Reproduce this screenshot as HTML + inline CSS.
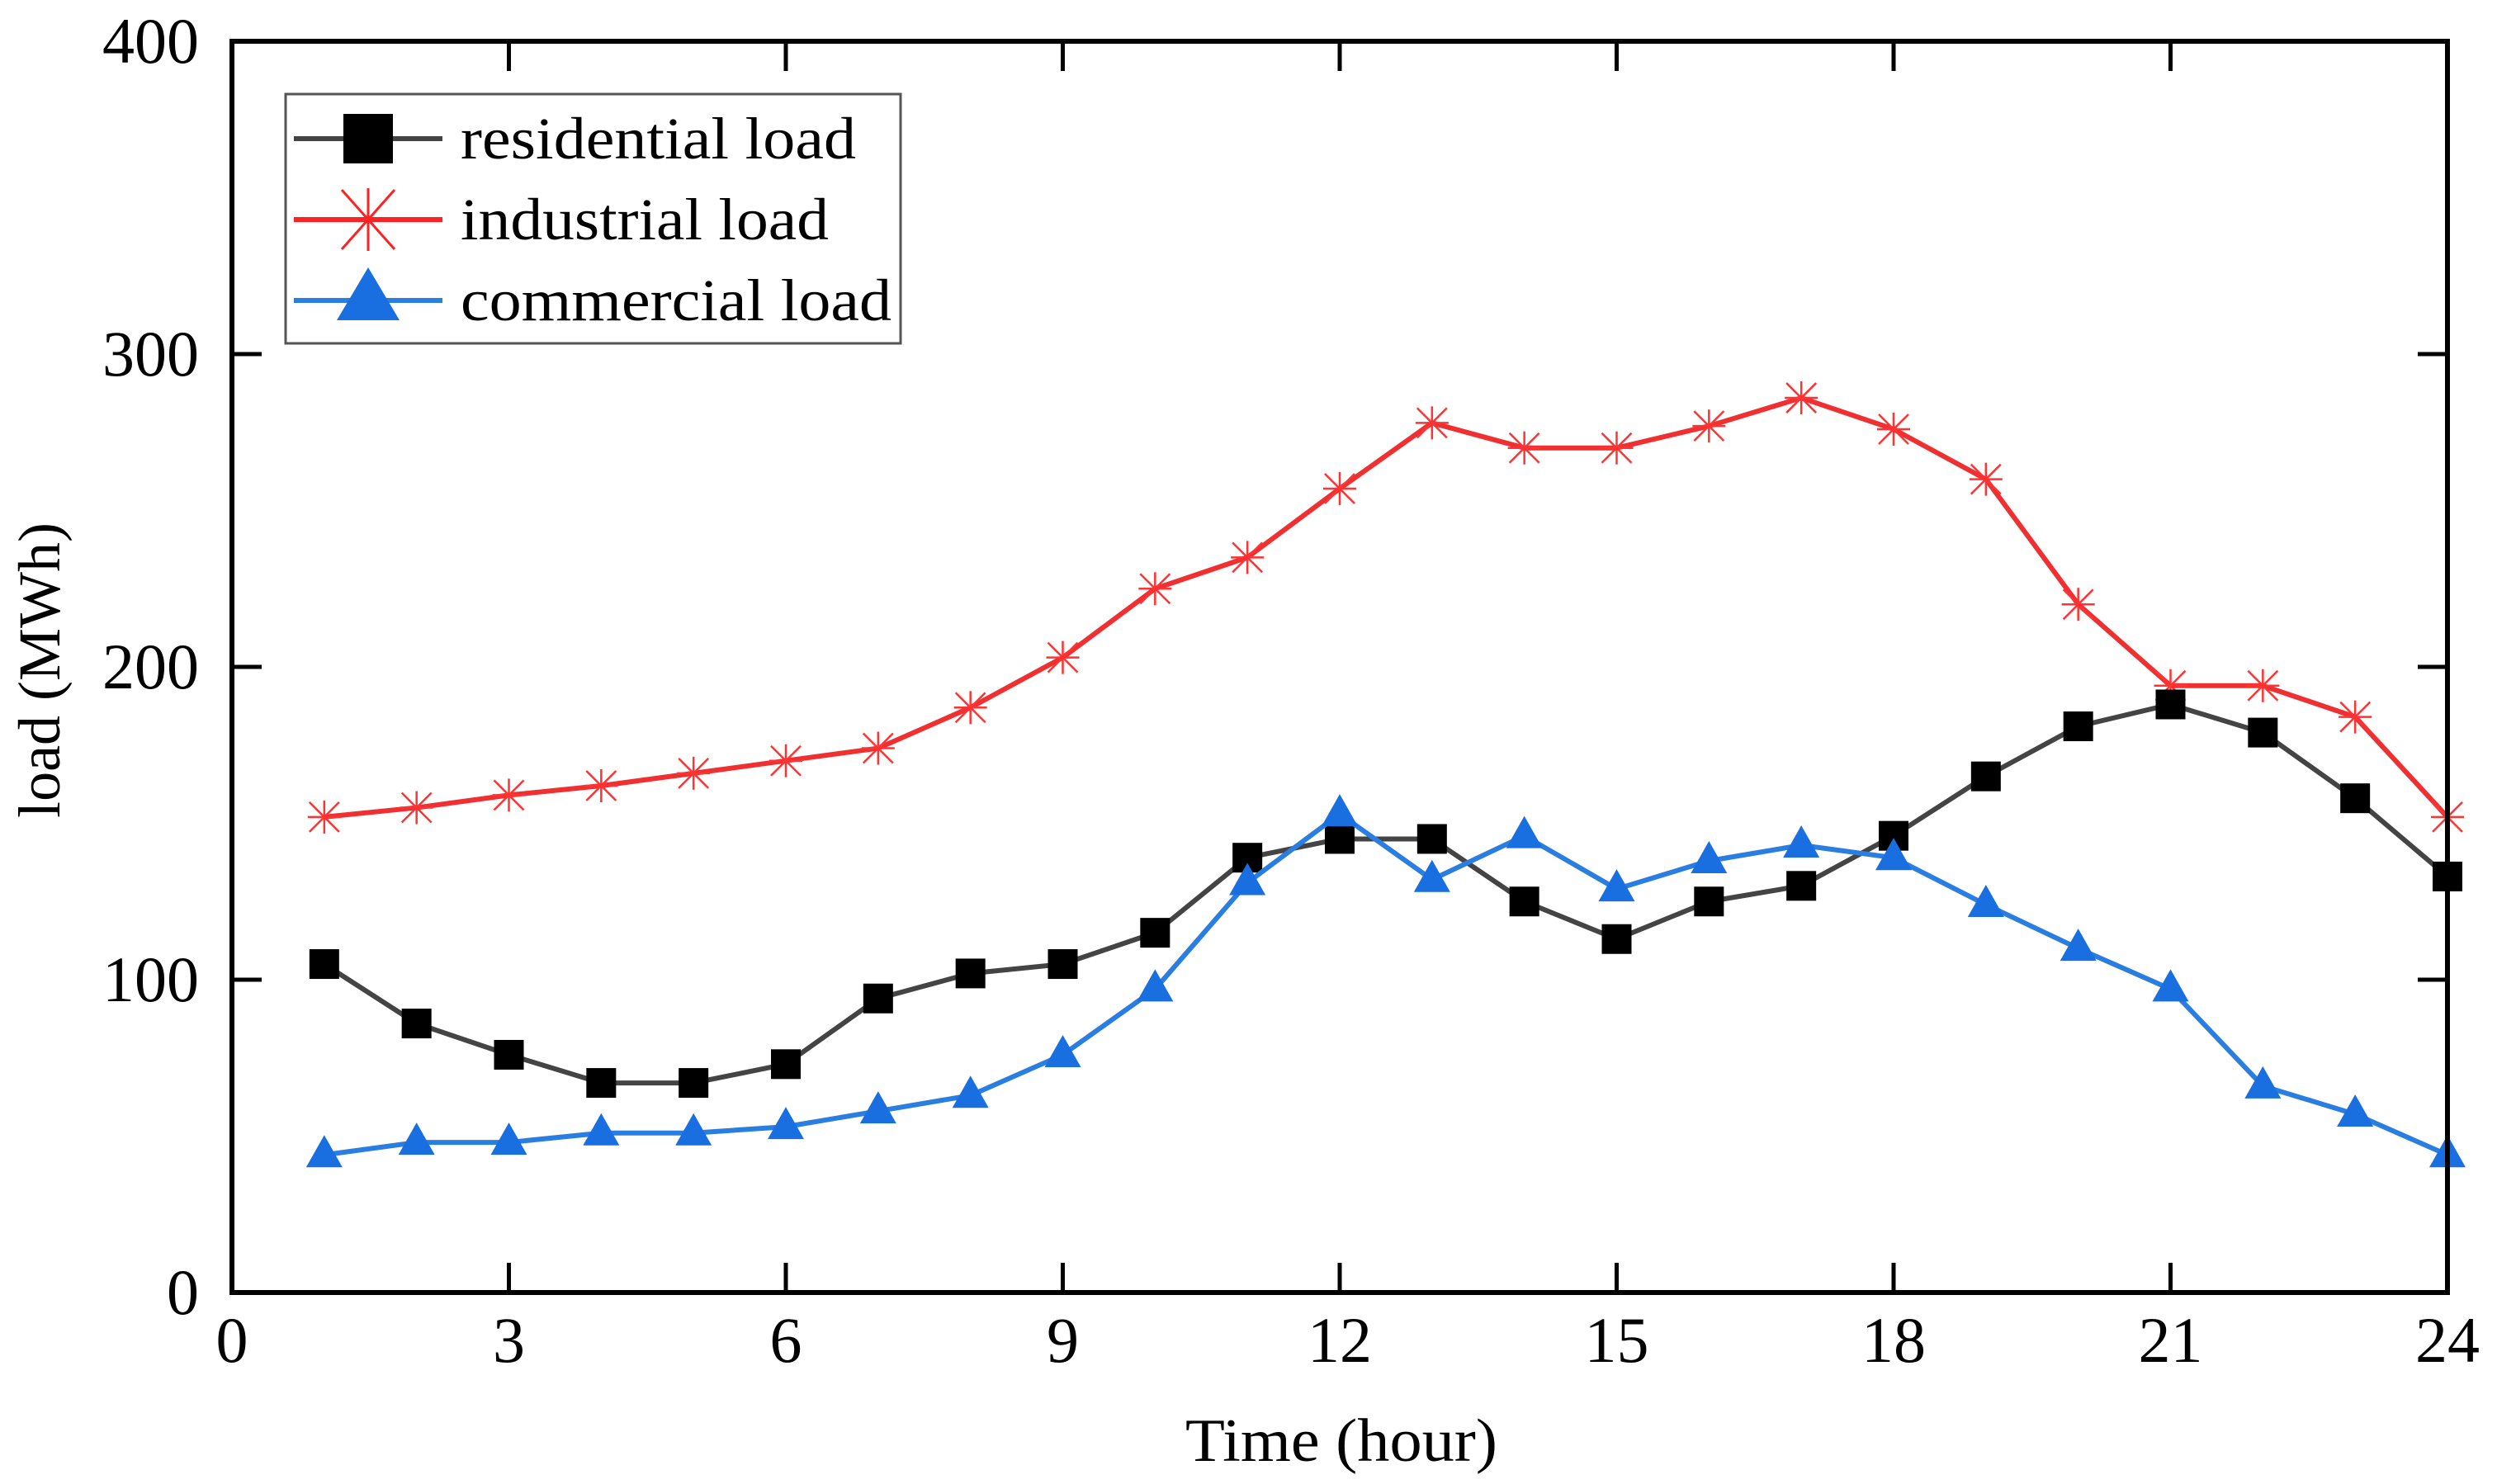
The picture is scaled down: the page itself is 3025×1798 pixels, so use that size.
<!DOCTYPE html>
<html><head><meta charset="utf-8"><style>
html,body{margin:0;padding:0;background:#fff;}
svg{display:block;font-family:"Liberation Serif",serif;}
</style></head><body>
<svg id="chart" width="3025" height="1798" viewBox="0 0 3025 1798" xmlns="http://www.w3.org/2000/svg">
<g id="marks"></g>
<g id="axes"></g>
<text x="1625" y="1770" font-size="74" text-anchor="middle" textLength="378" lengthAdjust="spacingAndGlyphs">Time (hour)</text>
<text transform="translate(72,812) rotate(-90)" font-size="72" text-anchor="middle">load (MWh)</text>
<g>
<rect x="346" y="114" width="745" height="302" fill="#fff" stroke="#555" stroke-width="3"/>
<g>
<line x1="356" y1="168" x2="536" y2="168" stroke="#444" stroke-width="6"/>
<rect x="416" y="138" width="60" height="60" fill="#000"/>
<text x="558" y="192" font-size="72" textLength="479" lengthAdjust="spacingAndGlyphs">residential load</text></g>
<g>
<line x1="356" y1="266" x2="536" y2="266" stroke="#f22" stroke-width="6"/>
<g stroke="#f22" stroke-width="3"><line x1="446" y1="228" x2="446" y2="304"/><line x1="414" y1="230" x2="478" y2="302"/><line x1="478" y1="230" x2="414" y2="302"/></g>
<text x="558" y="290" font-size="72" textLength="446" lengthAdjust="spacingAndGlyphs">industrial load</text></g>
<g>
<line x1="356" y1="364" x2="536" y2="364" stroke="#2a7de1" stroke-width="6"/>
<polygon points="446,324 484,388 408,388" fill="#1a6fe0"/>
<text x="558" y="388" font-size="72" textLength="522" lengthAdjust="spacingAndGlyphs">commercial load</text></g>
</g>
</svg>
<script>
const hours = [1,2,3,4,5,6,7,8,9,10,11,12,13,14,15,16,17,18,19,20,21,22,23,24];
const residential = [105,86,76,67,67,73,94,102,105,115,139,145,145,125,113,125,130,146,165,181,188,179,158,133];
const industrial = [152,155,159,162,166,170,174,187,203,225,235,257,278,270,270,277,286,276,260,220,194,194,184,152];
const commercial = [44,48,48,51,51,53,58,63,76,97,131,153,132,146,129,138,143,139,124,110,97,66,57,44];
const xTicks = [0,3,6,9,12,15,18,21,24];
const yTicks = [0,100,200,300,400];

const L=281,R=2965,T=50,B=1566;
const xs=v=>L+(v-0)/(24-0)*(R-L);
const ys=v=>B-(v-0)/(400-0)*(B-T);
const NS='http://www.w3.org/2000/svg';
const marks=document.getElementById('marks');
const axes=document.getElementById('axes');
function mk(tag,attrs,parent){const e=document.createElementNS(NS,tag);for(const k in attrs)e.setAttribute(k,attrs[k]);parent.appendChild(e);return e;}

function series(vals,color,lineColor,name,kind){
  const g=mk('g',{},marks);
  
  
  const pts=vals.map((v,i)=>xs(hours[i])+','+ys(v)).join(' ');
  const pl=mk('polyline',{points:pts,fill:'none',stroke:lineColor,'stroke-width':6,'stroke-linejoin':'round'},g);
  
  
  vals.forEach((v,i)=>{
    const x=xs(hours[i]),y=ys(v);let m;
    if(kind==='square'){m=mk('rect',{x:x-18,y:y-18,width:36,height:36,fill:color},g);}
    else if(kind==='tri'){m=mk('polygon',{points:`${x},${y-24} ${x+22},${y+15} ${x-22},${y+15}`,fill:color},g);}
    else{m=mk('g',{stroke:color,'stroke-width':2.5},g);
      mk('line',{x1:x,y1:y-20,x2:x,y2:y+20},m);
      mk('line',{x1:x-18,y1:y-18,x2:x+18,y2:y+18},m);
      mk('line',{x1:x+18,y1:y-18,x2:x-18,y2:y+18},m);
      mk('line',{x1:x-20,y1:y,x2:x+20,y2:y},m);}
    
    
  });
}
series(industrial,'#f33','#f03030','industrial','star');
series(residential,'#000','#444','residential','square');
series(commercial,'#1a6fe0','#2a7de1','commercial','tri');

const frame=mk('rect',{x:L,y:T,width:R-L,height:B-T,fill:'none',stroke:'#000','stroke-width':6},axes);


xTicks.forEach(t=>{
  const x=xs(t);
  mk('line',{x1:x,y1:B,x2:x,y2:B-36,stroke:'#000','stroke-width':5},axes);
  mk('line',{x1:x,y1:T,x2:x,y2:T+36,stroke:'#000','stroke-width':5},axes);
  const tx=mk('text',{x:x,y:B+84,'font-size':78,'text-anchor':'middle'},axes);
  tx.textContent=t;
  
  
});
yTicks.forEach(t=>{
  const y=ys(t);
  mk('line',{x1:L,y1:y,x2:L+36,y2:y,stroke:'#000','stroke-width':5},axes);
  mk('line',{x1:R,y1:y,x2:R-36,y2:y,stroke:'#000','stroke-width':5},axes);
  const tx=mk('text',{x:L-40,y:y+26,'font-size':78,'text-anchor':'end'},axes);
  tx.textContent=t;
  
  
});
</script>
</body></html>
